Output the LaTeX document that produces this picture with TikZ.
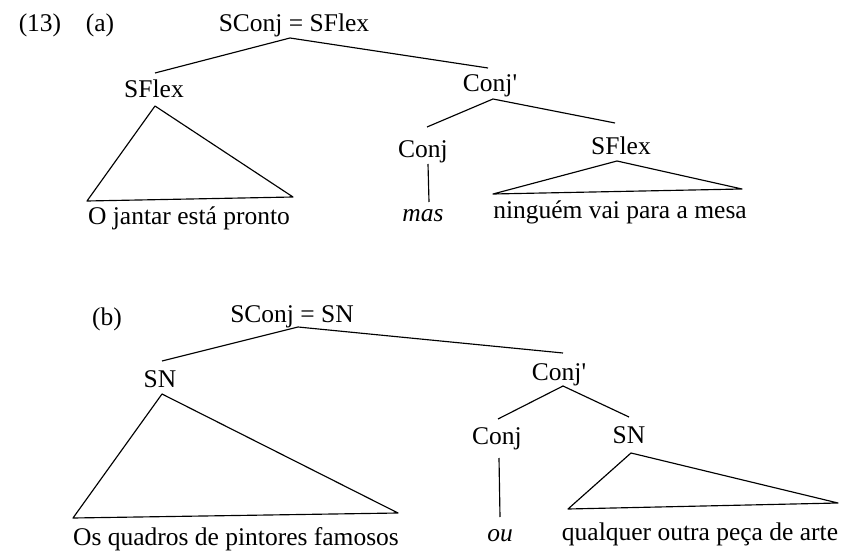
\documentclass[tikz,border=0pt]{standalone}
\usepackage{fontspec}
\setmainfont{Liberation Serif}
\newcommand{\sq}{\XeTeXglyph\XeTeXcharglyph"27\relax}
\begin{document}
\begin{tikzpicture}[x=1pt,y=-1pt,
  lbl/.style={anchor=base,inner sep=0pt,font=\fontsize{25.5}{30}\selectfont},
  edge/.style={line width=1.15pt,line join=round}]
\useasboundingbox (0,0) rectangle (843,553);
% ---------- (a) ----------
\node[lbl] (n13) at (40,32) {(13)};
\node[lbl] (la) at (100,32) {(a)};
\node[lbl] (aroot) at (294,32) {SConj = SFlex};
\node[lbl] (asf1) at (154,98) {SFlex};
\node[lbl] (at1) at (189,225) {O jantar está pronto};
\node[lbl] (acb) at (490,92) {Conj\sq};
\node[lbl] (acj) at (423,158) {Conj};
\node[lbl] (amas) at (423,222) {\itshape mas};
\node[lbl] (asf2) at (621,155) {SFlex};
\node[lbl] (at2) at (620,219) {ninguém vai para a mesa};
\coordinate (aR) at (290,38);
\coordinate (aL) at (155,73);
\coordinate (aCB) at (488,68);
\coordinate (aT1a) at (155,106);
\coordinate (aT1l) at (87,201);
\coordinate (aT1r) at (293,197);
\coordinate (aCBa) at (493,99);
\coordinate (aCBl) at (427,127);
\coordinate (aCBr) at (615,123);
\coordinate (aVt) at (428,164);
\coordinate (aVb) at (429,202);
\coordinate (aT2a) at (617,161);
\coordinate (aT2l) at (493,194);
\coordinate (aT2r) at (742,189);
\draw[edge] (aL) -- (aR) -- (aCB);
\draw[edge] (aT1a) -- (aT1l) -- (aT1r) -- cycle;
\draw[edge] (aCBl) -- (aCBa) -- (aCBr);
\draw[edge] (aVt) -- (aVb);
\draw[edge] (aT2a) -- (aT2l) -- (aT2r) -- cycle;
% ---------- (b) ----------
\node[lbl] (lb) at (107,325) {(b)};
\node[lbl] (broot) at (292,322) {SConj = SN};
\node[lbl] (bsn1) at (160,387) {SN};
\node[lbl] (bt1) at (236,545) {Os quadros de pintores famosos};
\node[lbl] (bcb) at (559,380) {Conj\sq};
\node[lbl] (bcj) at (497,444) {Conj};
\node[lbl] (bou) at (500,541) {\itshape ou};
\node[lbl] (bsn2) at (629,443) {SN};
\node[lbl] (bt2) at (700,540) {qualquer outra peça de arte};
\coordinate (bR) at (298,327);
\coordinate (bL) at (162,361);
\coordinate (bCB) at (563,353);
\coordinate (bT1a) at (162,394);
\coordinate (bT1l) at (73,518);
\coordinate (bT1r) at (398,513);
\coordinate (bCBa) at (563,386);
\coordinate (bCBl) at (498,419);
\coordinate (bCBr) at (629,417);
\coordinate (bVt) at (499,458);
\coordinate (bVb) at (500,517);
\coordinate (bT2a) at (631,453);
\coordinate (bT2l) at (568,509);
\coordinate (bT2r) at (838,503);
\draw[edge] (bL) -- (bR) -- (bCB);
\draw[edge] (bT1a) -- (bT1l) -- (bT1r) -- cycle;
\draw[edge] (bCBl) -- (bCBa) -- (bCBr);
\draw[edge] (bVt) -- (bVb);
\draw[edge] (bT2a) -- (bT2l) -- (bT2r) -- cycle;
\end{tikzpicture}
\end{document}
